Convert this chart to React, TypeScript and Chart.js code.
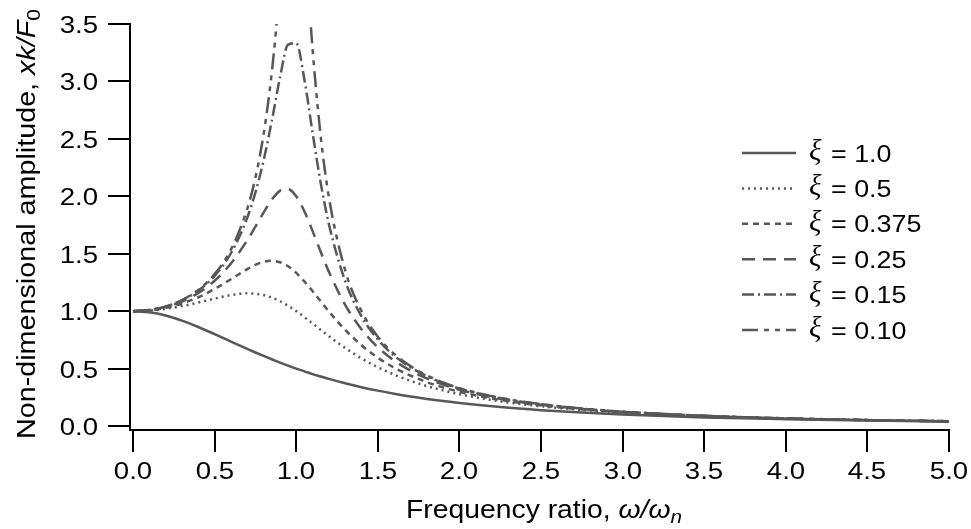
import React, { useEffect, useRef } from "react";
import { Chart, registerables } from "chart.js";

Chart.register(...registerables);

// Frequency ratio ω/ωn (x values)
const freqRatio = [0, 0.1, 0.2, 0.3, 0.4, 0.5, 0.6, 0.7, 0.75, 0.8, 0.85, 0.9, 0.95, 1.0, 1.05, 1.1, 1.15, 1.2, 1.3, 1.4, 1.5, 1.6, 1.7, 1.8, 1.9, 2.0, 2.25, 2.5, 2.75, 3.0, 3.5, 4.0, 4.5, 5.0];

// Non-dimensional amplitude xk/F0 for each damping ratio
const ampXi100 = [1, 0.99, 0.962, 0.917, 0.862, 0.8, 0.735, 0.671, 0.64, 0.61, 0.581, 0.552, 0.526, 0.5, 0.476, 0.452, 0.431, 0.41, 0.372, 0.338, 0.308, 0.281, 0.257, 0.236, 0.217, 0.2, 0.165, 0.138, 0.117, 0.1, 0.075, 0.059, 0.047, 0.038];
const ampXi050 = [1, 1.005, 1.02, 1.044, 1.075, 1.109, 1.14, 1.155, 1.152, 1.14, 1.118, 1.087, 1.047, 1.0, 0.948, 0.893, 0.837, 0.782, 0.679, 0.589, 0.512, 0.448, 0.393, 0.348, 0.31, 0.277, 0.215, 0.172, 0.141, 0.117, 0.085, 0.064, 0.051, 0.041];
const ampXi0375 = [1, 1.007, 1.029, 1.067, 1.121, 1.193, 1.278, 1.366, 1.403, 1.429, 1.438, 1.426, 1.391, 1.333, 1.259, 1.175, 1.086, 0.998, 0.837, 0.703, 0.595, 0.508, 0.439, 0.382, 0.336, 0.298, 0.227, 0.179, 0.145, 0.12, 0.087, 0.065, 0.051, 0.041];
const ampXi025 = [1, 1.009, 1.036, 1.084, 1.158, 1.265, 1.415, 1.617, 1.735, 1.858, 1.97, 2.047, 2.062, 2.0, 1.869, 1.699, 1.517, 1.344, 1.055, 0.842, 0.686, 0.57, 0.483, 0.414, 0.36, 0.316, 0.237, 0.185, 0.149, 0.123, 0.088, 0.066, 0.052, 0.041];
const ampXi015 = [1, 1.01, 1.04, 1.094, 1.179, 1.307, 1.504, 1.813, 2.033, 2.311, 2.653, 3.029, 3.32, 3.333, 3.019, 2.557, 2.117, 1.759, 1.262, 0.954, 0.753, 0.613, 0.511, 0.434, 0.374, 0.327, 0.243, 0.189, 0.151, 0.124, 0.089, 0.066, 0.052, 0.042];
const ampXi010 = [1, 1.01, 1.041, 1.097, 1.185, 1.322, 1.536, 1.891, 2.162, 2.538, 3.073, 3.821, 4.683, 5.0, 4.279, 3.288, 2.524, 1.995, 1.356, 1.0, 0.778, 0.628, 0.521, 0.441, 0.379, 0.33, 0.245, 0.19, 0.152, 0.125, 0.089, 0.067, 0.052, 0.042];

const dampingLabels = ["1.0", "0.5", "0.375", "0.25", "0.15", "0.10"];
const xTickLabels = ["0.0", "0.5", "1.0", "1.5", "2.0", "2.5", "3.0", "3.5", "4.0", "4.5", "5.0"];
const yTickLabels = ["0.0", "0.5", "1.0", "1.5", "2.0", "2.5", "3.0", "3.5"];

const seriesValues = [ampXi100, ampXi050, ampXi0375, ampXi025, ampXi015, ampXi010];
const dashes: number[][] = [[], [2, 4], [6, 5], [13, 8], [12, 4, 2, 4], [16, 6, 5, 6, 5, 6]];
const LINE_COLOR = "#575757";
const SANS = "'Liberation Sans', Arial, Helvetica, sans-serif";

type Seg = { t: string; font: string; dy?: number };

function drawSegs(ctx: CanvasRenderingContext2D, segs: Seg[], sx: number) {
  let x = 0;
  for (const s of segs) {
    ctx.font = s.font;
    ctx.save();
    ctx.translate(x, s.dy || 0);
    ctx.scale(sx, 1);
    ctx.fillText(s.t, 0, 0);
    ctx.restore();
    x += ctx.measureText(s.t).width * sx;
  }
  return x;
}

function segsWidth(ctx: CanvasRenderingContext2D, segs: Seg[]) {
  let w = 0;
  for (const s of segs) {
    ctx.font = s.font;
    w += ctx.measureText(s.t).width;
  }
  return w;
}

const axesPlugin = {
  id: "offsetAxes",
  afterDraw(chart: any) {
    const ctx: CanvasRenderingContext2D = chart.ctx;
    const xs = chart.scales.x;
    const ys = chart.scales.y;
    const { left, right, top, bottom } = chart.chartArea;
    ctx.save();
    ctx.strokeStyle = "#000";
    ctx.fillStyle = "#000";
    ctx.lineWidth = 2;
    ctx.lineCap = "butt";
    ctx.beginPath();
    ctx.moveTo(left, top - 1);
    ctx.lineTo(left, bottom + 1);
    ctx.moveTo(left - 1, bottom);
    ctx.lineTo(right + 1, bottom);
    ctx.stroke();
    const tickSx = 1.15;
    ctx.textBaseline = "alphabetic";
    yTickLabels.forEach((lab) => {
      const py = Math.round(ys.getPixelForValue(parseFloat(lab)));
      ctx.beginPath();
      ctx.moveTo(left - 22, py);
      ctx.lineTo(left, py);
      ctx.stroke();
      ctx.font = "24px " + SANS;
      const w = ctx.measureText(lab).width * tickSx;
      ctx.save();
      ctx.translate(98 - w, py + 8.5);
      ctx.scale(tickSx, 1);
      ctx.fillText(lab, 0, 0);
      ctx.restore();
    });
    xTickLabels.forEach((lab) => {
      const px = Math.round(xs.getPixelForValue(parseFloat(lab)));
      ctx.beginPath();
      ctx.moveTo(px, bottom);
      ctx.lineTo(px, bottom + 22);
      ctx.stroke();
      ctx.font = "24px " + SANS;
      const w = ctx.measureText(lab).width * tickSx;
      ctx.save();
      ctx.translate(px - w / 2, 479);
      ctx.scale(tickSx, 1);
      ctx.fillText(lab, 0, 0);
      ctx.restore();
    });
    const xSegs: Seg[] = [
      { t: "Frequency ratio, ", font: "26px " + SANS },
      { t: "ω/ω", font: "italic 26px " + SANS },
      { t: "n", font: "italic 19px " + SANS, dy: 5 },
    ];
    const xw = segsWidth(ctx, xSegs);
    const xsx = 276 / xw;
    ctx.save();
    ctx.translate(406, 518);
    drawSegs(ctx, xSegs, xsx);
    ctx.restore();
    const ySegs: Seg[] = [
      { t: "Non-dimensional amplitude, ", font: "26px " + SANS },
      { t: "xk/F", font: "italic 26px " + SANS },
      { t: "0", font: "19px " + SANS, dy: 5 },
    ];
    const yw = segsWidth(ctx, ySegs);
    const ysx = 430 / yw;
    ctx.save();
    ctx.translate(35, 439);
    ctx.rotate(-Math.PI / 2);
    drawSegs(ctx, ySegs, ysx);
    ctx.restore();
    dampingLabels.forEach((lab, i) => {
      const cy = 153 + i * 35.4;
      ctx.save();
      ctx.strokeStyle = LINE_COLOR;
      ctx.lineWidth = 2.5;
      ctx.setLineDash(dashes[i]);
      ctx.beginPath();
      ctx.moveTo(742, cy);
      ctx.lineTo(796, cy);
      ctx.stroke();
      ctx.restore();
      ctx.fillStyle = "#000";
      ctx.font = "italic 29px 'Liberation Serif', 'DejaVu Serif', serif";
      ctx.fillText("ξ", 809, cy + 7);
      ctx.font = "24px " + SANS;
      ctx.save();
      ctx.translate(831, cy + 8.5);
      ctx.scale(1.12, 1);
      ctx.fillText("= " + lab, 0, 0);
      ctx.restore();
    });
    ctx.restore();
  },
};

export default function App() {
  const canvasRef = useRef<HTMLCanvasElement | null>(null);

  useEffect(() => {
    const canvas = canvasRef.current;
    if (!canvas) return;
    const chart = new Chart(canvas, {
      type: "line",
      data: {
        datasets: seriesValues.map((vals, i) => ({
          label: "ξ = " + dampingLabels[i],
          data: freqRatio.map((x, j) => ({ x, y: vals[j] })),
          borderColor: LINE_COLOR,
          borderWidth: 2.5,
          borderDash: dashes[i],
          cubicInterpolationMode: "monotone" as const,
          pointRadius: 0,
          fill: false,
        })),
      },
      options: {
        responsive: false,
        animation: false,
        devicePixelRatio: 1,
        layout: { padding: { left: 130, right: 22, top: 24, bottom: 99 } },
        plugins: {
          legend: { display: false },
          tooltip: { enabled: false },
          title: { display: false },
        },
        scales: {
          x: { type: "linear", display: false, min: -0.0184, max: 5 },
          y: { type: "linear", display: false, min: -0.0348, max: 3.5 },
        },
      },
      plugins: [axesPlugin],
    });
    return () => chart.destroy();
  }, []);

  return (
    <div style={{ position: "fixed", left: 0, top: 0, width: 971, height: 529, background: "#fff" }}>
      <canvas ref={canvasRef} width={971} height={529} style={{ display: "block" }} />
    </div>
  );
}
